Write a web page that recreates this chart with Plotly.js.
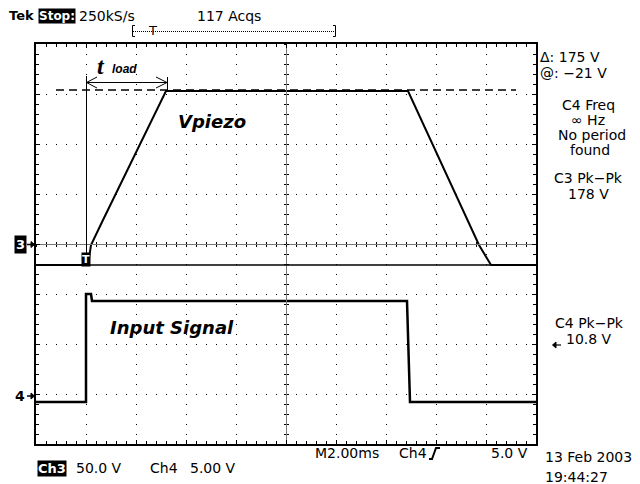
<!DOCTYPE html>
<html>
<head>
<meta charset="utf-8">
<script src="https://cdn.plot.ly/plotly-3.0.1.min.js"></script>
<style>html,body{margin:0;padding:0;background:#fff;}#chart{width:640px;height:484px;}</style>
</head>
<body>
<div id="chart"></div>
<script>
// ---- data (time in ms from left edge of the screen; 2 ms/div) ----
const ch3TimeMs = [0, 2.08, 2.2, 2.68, 5.2, 14.88, 17.72, 18.2, 20];
const ch3Volts  = [-21, -21, -1, 24, 153, 153, -1, -21, -21];   // Vpiezo, 50 V/div
const ch4TimeMs = [0, 2.0, 2.0, 2.2, 2.24, 14.84, 14.96, 20];
const ch4Volts  = [-0.8, -0.8, 10.0, 10.0, 9.3, 9.3, -0.8, -0.8]; // Input signal, 5 V/div
const ch3VoltsPerDiv = 50, ch4VoltsPerDiv = 5;
const ch3GroundDiv = 0, ch4GroundDiv = -3;
const cursorVolts = [-21, 154];           // @: -21 V, delta 175 V

const ch3Div = ch3Volts.map(v => ch3GroundDiv + v / ch3VoltsPerDiv);
const ch4Div = ch4Volts.map(v => ch4GroundDiv + v / ch4VoltsPerDiv);

// pixel -> paper helpers (plot area 36..536 x 44..444)
const PL = 36, PT = 44, PW = 500, PH = 400;
const px = x => (x - PL) / PW;
const py = y => (PT + PH - y) / PH;

const F = 'DejaVu Sans, Liberation Sans, sans-serif';
const traces = [
  {x: ch3TimeMs, y: ch3Div, mode: 'lines', line: {color: '#000', width: 2}, hoverinfo: 'skip'},
  {x: ch4TimeMs, y: ch4Div, mode: 'lines', line: {color: '#000', width: 2.5}, hoverinfo: 'skip'},
  {x: [null], y: [null], xaxis: 'x2', yaxis: 'y', hoverinfo: 'skip'},
  {x: [null], y: [null], xaxis: 'x3', yaxis: 'y', hoverinfo: 'skip'},
  {x: [null], y: [null], xaxis: 'x', yaxis: 'y2', hoverinfo: 'skip'},
  {x: [null], y: [null], xaxis: 'x', yaxis: 'y3', hoverinfo: 'skip'}
];

function ann(text, x, y, opts) {
  opts = opts || {};
  const font = Object.assign({family: F, size: 14, color: '#000'}, opts.font || {});
  const a = Object.assign({text: text, xref: 'paper', yref: 'paper', x: px(x), y: py(y),
    xanchor: 'center', yanchor: 'middle', showarrow: false}, opts);
  a.font = font;
  return a;
}

const annotations = [
  ann('<b>Tek</b>', 7, 16, {xanchor: 'left', font: {size: 13}}),
  ann('<b>Stop:</b>', 57, 16, {bgcolor: '#000', borderpad: 0, font: {size: 12, color: '#fff'}}),
  ann('250kS/s', 77, 16, {xanchor: 'left'}),
  ann('117 Acqs', 195, 16, {xanchor: 'left'}),
  ann('T', 152, 30, {font: {size: 13}}),
  // right readouts
  ann('Δ: 175 V', 538, 57, {xanchor: 'left'}),
  ann('@: −21 V', 538, 73, {xanchor: 'left'}),
  ann('C4 Freq', 588, 105),
  ann('∞ Hz', 588, 120),
  ann('No period', 592, 135),
  ann('found', 590, 150),
  ann('C3 Pk−Pk', 588, 178),
  ann('178 V', 588, 194),
  ann('C4 Pk−Pk', 589, 323),
  ann('10.8 V', 589, 339),
  // bottom
  ann('M2.00ms', 313, 453, {xanchor: 'left'}),
  ann('Ch4', 397, 453, {xanchor: 'left'}),
  ann('5.0 V', 489, 453, {xanchor: 'left'}),
  ann('13 Feb 2003', 543, 457, {xanchor: 'left'}),
  ann('<b>Ch3</b>', 52, 468, {bgcolor: '#000', borderpad: 0, font: {size: 13, color: '#fff'}}),
  ann('50.0 V', 74, 468, {xanchor: 'left'}),
  ann('Ch4', 148, 468, {xanchor: 'left'}),
  ann('5.00 V', 188, 468, {xanchor: 'left'}),
  ann('19:44:27', 543, 477, {xanchor: 'left'}),
  // ground markers
  ann('<b>3</b>', 20, 245, {bgcolor: '#000', borderpad: 1, font: {size: 13, color: '#fff'}}),
  ann('<b>4</b>', 20, 396, {font: {size: 14}}),
  // trigger T
  ann('<b>T</b>', 86, 259, {bgcolor: '#000', borderpad: 0, font: {size: 11, color: '#fff'}}),
  // hand labels
  ann('<b><i>t</i></b>', 101, 66, {font: {family: 'Liberation Serif, serif', size: 24}}),
  ann('<b><i>load</i></b>', 124, 69, {font: {family: 'Liberation Sans, sans-serif', size: 12}}),
  ann('<b><i>Vpiezo</i></b>', 212, 122, {font: {size: 18}}),
  ann('<b><i>Input Signal</i></b>', 172, 327, {font: {size: 18}})
];

function pathPx(d) {
  return d.replace(/(-?\d+(?:\.\d+)?),(-?\d+(?:\.\d+)?)/g, (m, a, b) => px(+a) + ',' + py(+b));
}
function pshape(d, w, dash, fill) {
  const s = {type: 'path', xref: 'paper', yref: 'paper', path: pathPx(d),
    line: {color: '#000', width: w || 1, dash: dash || 'solid'}};
  if (fill) s.fillcolor = fill;
  return s;
}

const shapes = [
  // cursors
  {type: 'line', xref: 'paper', yref: 'y', x0: 0, x1: 1,
   y0: cursorVolts[0] / ch3VoltsPerDiv, y1: cursorVolts[0] / ch3VoltsPerDiv, line: {color: '#000', width: 1.3}},
  {type: 'line', xref: 'paper', yref: 'y', x0: px(56), x1: px(516),
   y0: cursorVolts[1] / ch3VoltsPerDiv, y1: cursorVolts[1] / ch3VoltsPerDiv, line: {color: '#000', width: 1.3, dash: '8px,5px'}},
  // t_load marker
  pshape('M86.5,76 L86.5,256', 1),
  pshape('M167.5,77 L167.5,91', 1),
  pshape('M86,82.5 L167,82.5', 1),
  pshape('M97,77 L86.5,82.5 L97,88', 1),
  pshape('M156,77 L167,82.5 L156,88', 1),
  // record bracket in header
  pshape('M135,25.5 L132.5,25.5 L132.5,36.5 L135,36.5', 1),
  pshape('M333,25.5 L335.5,25.5 L335.5,36.5 L333,36.5', 1),
  pshape('M133,31.5 L335,31.5', 1, '1px,1px'),
  // Ch4 rising-edge symbol
  pshape('M429,459 L432,459 L436,448 L440,448', 2),
  // ground arrows
  pshape('M27,244.5 L33,244.5', 1.5),
  pshape('M31,241.5 L34.5,244.5 L31,247.5 Z', 1, null, '#000'),
  pshape('M27,396 L33,396', 1.5),
  pshape('M31,393 L34.5,396 L31,399 Z', 1, null, '#000'),
  // trigger level arrow (Ch4, 5 V)
  pshape('M553,345 L561,345', 1.2),
  pshape('M556,342 L552.5,345 L556,348 Z', 1, null, '#000')
];

const baseAx = {showticklabels: false, fixedrange: true, zeroline: false};
const layout = {
  width: 640, height: 484,
  margin: {l: 36, r: 104, t: 44, b: 40, pad: 0},
  paper_bgcolor: '#fff', plot_bgcolor: '#fff', showlegend: false,
  xaxis: Object.assign({}, baseAx, {range: [0, 20], dtick: 2, tick0: 0, showgrid: true, gridcolor: '#000',
    gridwidth: 1, griddash: '1px,9px', showline: true, linecolor: '#000', linewidth: 2, mirror: 'ticks',
    ticks: 'inside', ticklen: 4, tickcolor: '#000',
    minor: {dtick: 0.4, tick0: 0, ticks: 'inside', ticklen: 3, tickcolor: '#000', showgrid: false}}),
  yaxis: Object.assign({}, baseAx, {range: [-4, 4], dtick: 1, tick0: 0, showgrid: true, gridcolor: '#000',
    gridwidth: 1, griddash: '1px,9px', showline: true, linecolor: '#000', linewidth: 2, mirror: 'ticks',
    ticks: 'inside', ticklen: 4, tickcolor: '#000',
    minor: {dtick: 0.2, tick0: 0, ticks: 'inside', ticklen: 3, tickcolor: '#000', showgrid: false}}),
  xaxis2: Object.assign({}, baseAx, {range: [0, 20], overlaying: 'x', anchor: 'free', position: 0.5,
    showgrid: false, showline: true, linecolor: '#777', linewidth: 1, ticks: 'outside', ticklen: 2,
    dtick: 0.4, tick0: 0, tickcolor: '#000'}),
  xaxis3: Object.assign({}, baseAx, {range: [0, 20], overlaying: 'x', anchor: 'free', position: 0.5,
    showgrid: false, showline: false, ticks: 'inside', ticklen: 2, dtick: 0.4, tick0: 0, tickcolor: '#000'}),
  yaxis2: Object.assign({}, baseAx, {range: [-4, 4], overlaying: 'y', anchor: 'free', position: 0.5,
    showgrid: false, showline: true, linecolor: '#777', linewidth: 1, ticks: 'outside', ticklen: 2,
    dtick: 0.2, tick0: 0, tickcolor: '#000'}),
  yaxis3: Object.assign({}, baseAx, {range: [-4, 4], overlaying: 'y', anchor: 'free', position: 0.5,
    showgrid: false, showline: false, ticks: 'inside', ticklen: 2, dtick: 0.2, tick0: 0, tickcolor: '#000'}),
  annotations: annotations,
  shapes: shapes
};

Plotly.newPlot('chart', traces, layout, {staticPlot: true, displayModeBar: false});
</script>
</body>
</html>
